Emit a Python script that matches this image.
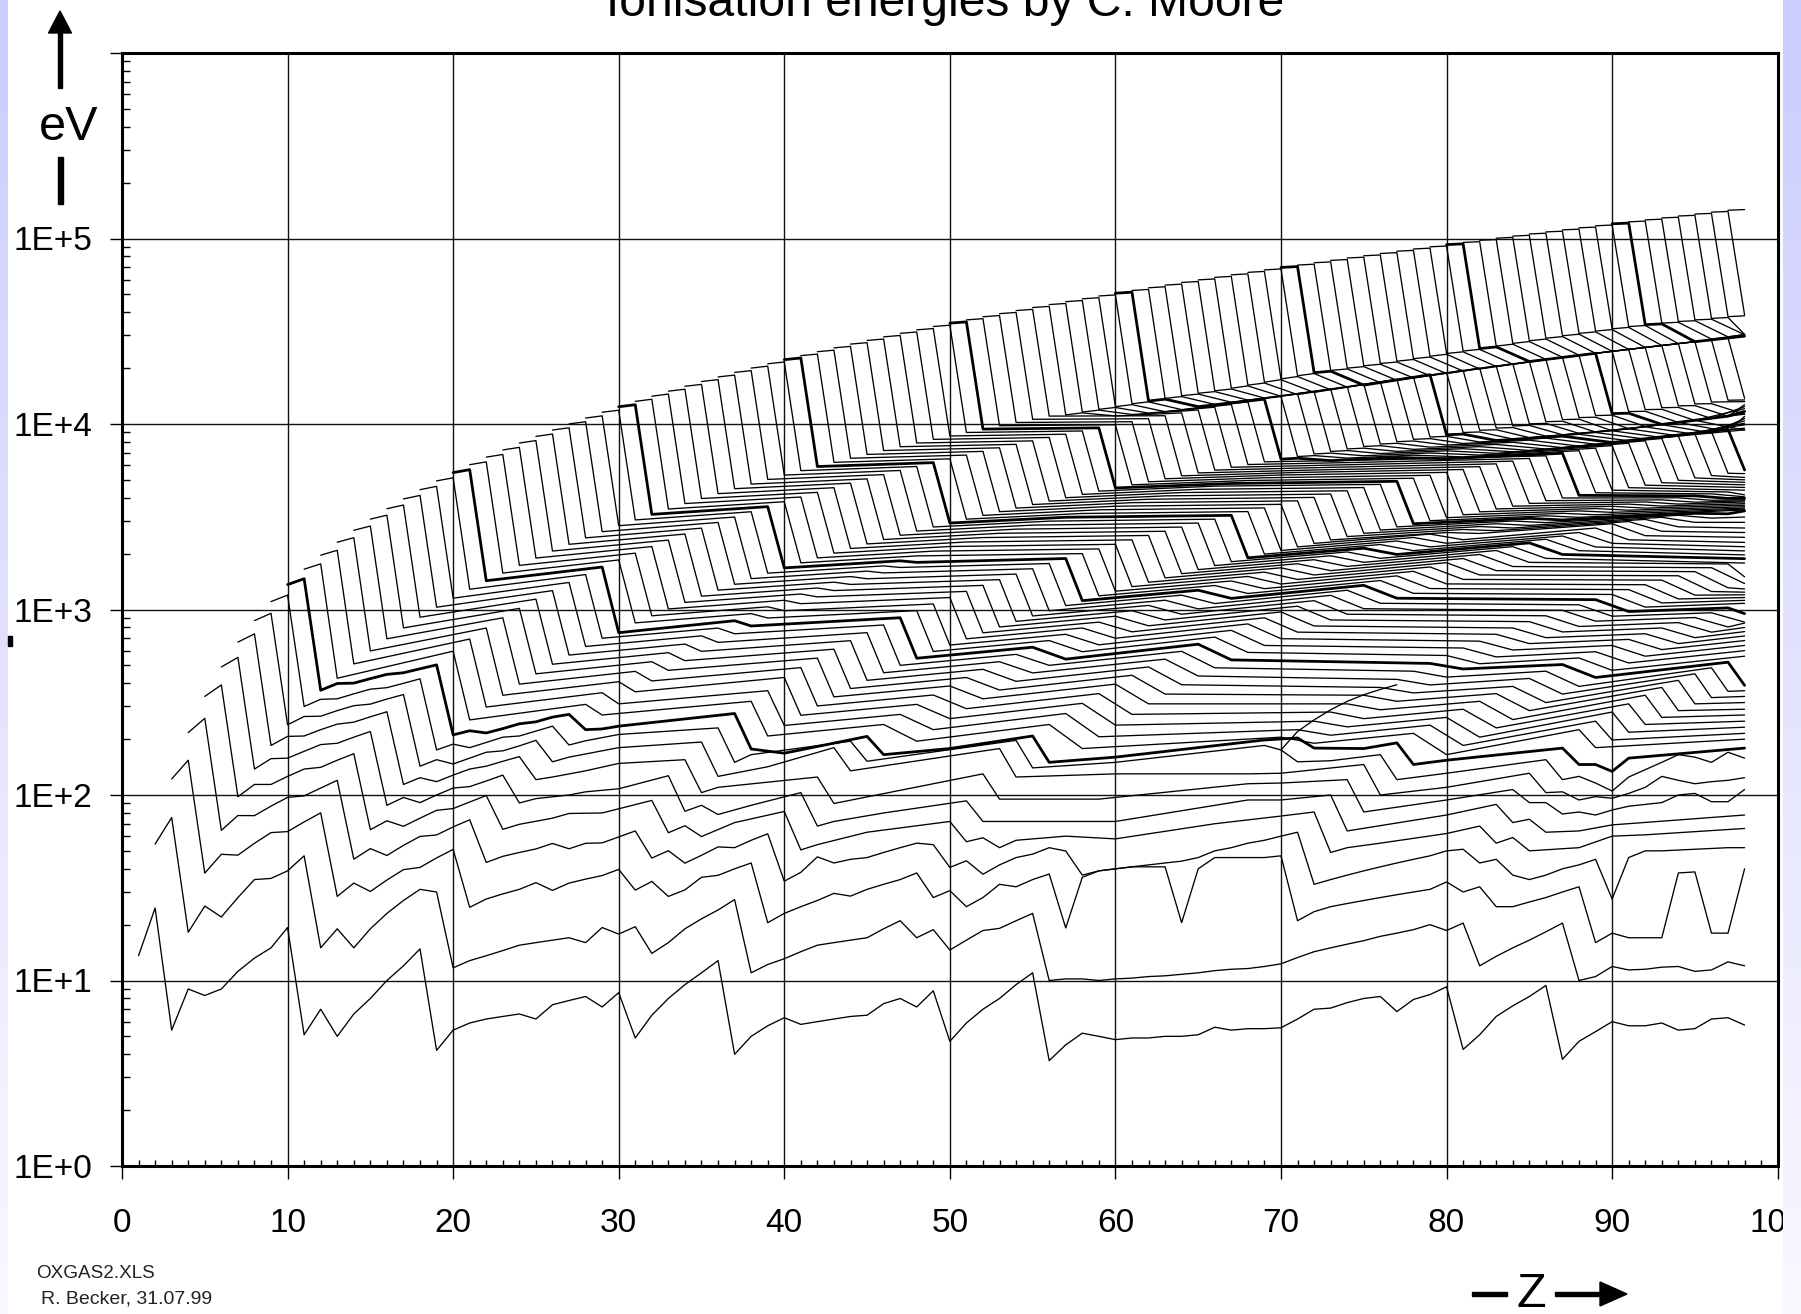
import numpy as np, pandas as pd, seaborn as sns, matplotlib
matplotlib.use("Agg")
import matplotlib.pyplot as plt
from matplotlib.patches import Polygon, Rectangle
from matplotlib.ticker import LogLocator, FixedLocator, NullFormatter, FixedFormatter

TITLE = "Ionisation energies by C. Moore"
YTICKS = [1, 10, 100, 1000, 10000, 100000]
YLABELS = ["1E+0", "1E+1", "1E+2", "1E+3", "1E+4", "1E+5"]
XTICKS = list(range(0, 101, 10))

# full rows, first value at Z = q
q1 = [13.6,24.6,5.4,9.0,8.3,9.0,11.2,13.2,15,19.3,
      5.1,7,5,6.6,8,10,12,14.8,4.2,5.4,
      5.9,6.2,6.4,6.6,6.2,7.4,7.8,8.2,7.2,8.6,
      4.9,6.5,8,9.5,11,12.8,4,5,5.7,6.3,
      5.8,6,6.2,6.4,6.5,7.5,8,7.2,8.8,4.7,
      5.9,7,8,9.5,11,3.7,4.5,5.2,5,4.8,
      4.9,4.9,5,5,5.1,5.6,5.4,5.5,5.5,5.56,
      6.2,7,7.1,7.6,8,8.2,6.8,7.9,8.4,9.25,
      4.25,5.1,6.4,7.3,8.2,9.4,3.76,4.7,5.3,6,
      5.7,5.7,5.9,5.4,5.5,6.2,6.3,5.75]
q2 = [54.4,75.6,18.2,25.2,22,28,35,35.5,39,47,15,19,15,19,23,27,31,30,11.7,
      12.8,13.6,14.5,15.5,16,16.5,17,16,19.3,17.8,19.5,14,16,19,21.5,24,27.3,11,12.2,
      13.1,14.3,15.5,16,16.5,17,19,21,17,18.8,14.6,16.5,18.6,19.1,21,23,10,10.2,10.2,
      10,10.2,10.3,10.5,10.6,10.8,11,11.3,11.5,11.6,11.9,12.3,13.3,14.3,15,15.7,16.4,17.3,
      18,18.8,20,18.6,20.4,12,13.5,15,16.5,18.3,20.4,10,10.5,11.9,11.4,11.5,11.8,11.9,11.2,11.4,12.6,12]
q3 = [122,154,37.9,47.9,47.4,54.9,62.7,63.5,71.6,80.1,28.4,33.5,30.2,34.8,39.6,40.7,45.8,50.9,
      24.8,27.5,29.3,31,33.7,30.6,33.5,35.2,36.8,39.7,30.7,34.2,28.4,30.8,36,36.9,40,43,
      20.5,23,25,27,29.5,28.5,31,33,35,38,28,30.5,25,28,33,32,35,37.5,19.2,36,39,40,41,41,41,
      20.5,40,46,46,46,46,47,21,23.5,25,26,27,28,29,30,31,34,30,32,25,25,26.5,28,30,32,
      16,18,17,17,17,38,38.5,18,18,40]
q4 = [217,259,64.5,77.5,77.4,87.1,97.1,98.9,109,120,45.1,51.4,47.2,53.5,59.8,60.9,67.3,73.5,
      43.3,46.7,49,51.2,54.8,51.3,54.9,55.2,59.4,64,45.7,50.1,42.9,47.3,52.5,52,57,61.8,
      34.3,38.3,46.4,43,45,46,49,52,55,54,40.7,44.2,37.4,42,46,48,52,49.9,37,39,40,41,42,43,44,46,
      50,52,55,57,60,63,33,35,37,39,41,43,45,47,50,51,43,45,37,35,37,40,42,45,27.5,46,50,50,50.5,51,51.5,52,52]

# corner rows: (Z, eV)
Z5 = [5,6,7,8,9,10,11,12,13,14,15,16,17,18,19,20,21,22,23,24,26,27,29,32,33,34,35,37,40,41,42,45,50,51,52,53,54,57,60,66,70,72,73,74,76,80,82,83,84,85,88,90,92,98]
E5 = [340,392,97.9,114,114,126,138,141,154,167,65,72.6,67.8,75,82.7,84.5,91.7,99.3,65.3,69.5,75,79.5,80,93.5,62.6,68.3,59.7,71,81.5,50.6,54,63,72,56,58.8,52,57,60,58,70,77,81,49,52,55,62,68,55,59,50,52,60,61,66]
Z6 = [6,7,8,9,10,11,12,13,14,15,16,17,18,19,20,21,22,23,24,25,27,28,30,33,34,35,36,38,41,42,43,46,51,52,55,60,68,70,73,74,80,83,84,85,86,88,90,98]
E6 = [490,552,138,157,158,172,187,190,205,220,88,97,91,100,109,111,119,128,90.6,95.6,100,104,108,127,81.7,88,78.5,88,103,68,72,80,93,72,72,72,94,94,100,64,78,89,71,74,63,64,69,78]
Z7 = [7,8,9,10,11,12,13,14,15,16,17,18,19,20,21,22,23,24,25,26,28,30,34,35,36,42,43,52,53,59,68,70,74,75,80,84,85,86,87,88,89,90,91,93,94,95,96,97,98]
E7 = [667,739,185,207,208,225,241,247,264,281,114,124,118,128,138,143,152,161,121,125,135,148,155,103,110,125,90,130,95,95,115,116,121,81,94,107,91,91,79,81,78,83,87,91,100,102,92,92,107]
Z8 = [8,9,10,11,12,13,14,15,16,17,18,19,20,21,22,23,24,25,26,27,30,35,36,39,43,44,53,54,60,68,70,75,76,80,85,86,87,88,89,90,91,92,93,94,95,96,97,98]
E8 = [871,954,239,265,266,285,303,309,329,348,143,155,147,158,170,173,184,197,151,160,180,193,126,142,180,135,178,125,130,130,131,146,100,110,131,103,104,94,98,96,102,110,126,120,115,118,120,124]
Z9 = [9,10,11,12,13,14,15,16,17,18,19,20,21,22,23,24,25,26,27,28,30,36,37,38,44,45,54,55,60,69,70,71,73,76,77,80,86,87,88,89,90,91,93,94,95,96,97,98]
E9 = [1103,1196,300,328,330,351,372,379,400,423,175,188,180,192,205,208,221,235,186,196,212,230,150,165,195,152,197,140,150,185,175,151,153,165,121,131,155,121,126,116,105,125,150,165,160,150,170,158]
Z10 = [10,11,12,13,14,15,16,17,18,19,20,21,22,23,24,25,26,27,28,29,30,37,38,40,45,46,50,55,56,60,69,71,72,75,77,78,80,87,88,89,90,91,98]
E10 = [1362,1465,367,399,401,424,447,456,479,503,211,222,216,228,242,248,263,272,225,227,235,275,177,168,207,165,178,208,150,160,198,203,179,178,191,146,154,179,146,146,134,158,179]
# odd line that climbs away from q=9 at Z=70
Z_extra = [70,71,72,73,74,75,76,77]
E_extra = [175,220,254,288,320,347,371,393]

# corners for q = 11, 12, ... : one list per electron step k (Z = q + k)
k0 = [1649,1962,2304,2673,3070,3494,3946,4426,4934,5470,6034,6626,7246,7895,8572,9278,10010,10770,11570,12390,13240,14120,15030,15970,16940,17940,18970,20020,21110,22220,23360,24530,25730,26960,28210,29500,30820,32170,33540,34970,36400,37860,39350,40890,42440,44030,45650,47300,48990,50700,52460,54240,56070,57930,59810,61740,63700,65700,67730,69800,71900,74000,76200,78500,80700,83000,85400,87800,90200,92700,95200,97800,100400,103000,105800,108500,111300,114200,117100,120000,123000,126000,129100,132200,135400,138700,142000,145000]
k1 = [1762,2086,2438,2818,3224,3658,4121,4611,5129,5675,6249,6851,7482,8141,8828,9544,10288,11062,11864,12700,13600,14500,15400,16350,17350,18350,19400,20500,21600,22700,23816,25000,26200,27450,28710,30010,31340,32700,34090,35530,36970,38440,39940,41490,43060,44660,46290,47950,49650,51380,53150,54940,56780,58650,60550,62490,64460,66470,68520,70600,72700,74800,77000,79300,81500,83900,86300,88700,91100,93600,96100,98700,101400,104000,106800,109500,112300,115200,118200,121100,124100,127100,130200,133300,136600,139900,143200]
k2 = [426,509,598,695,796,909,1029,1151,1286,1429,1572,1729,1894,2066,2246,2433,2628,2830,3040,3257,3482,3725,3965,4213,4480,4743,5027,5305,5604,5898,6213,6538,6854,7194,7543,7899,8264,8619,9000,9389,9786,10190,10600,11030,11200,11600,12000,12400,12850,13300,13750,14200,14650,15100,15600,16200,16800,17500,18200,18900,19450,20000,20600,21200,21800,22500,23200,24000,24750,25500,26300,27200,28100,29000,29900,30800,31700,32600,33500,34300,35000,35700,36400,37100,37900,38700]
k3_from55 = [11480,11880,12280,12720,13170,13610,14060,14500,14950,15440,16040,16630,17330,18020,18710,19260,19800,20390,20990,21580,22280,22970,23760,24500,25250,26040,26930,27820,28710,29600,30490,31380,32270,33170,33960,34650,35340,36040,36730,37500,38300]
k5_from55 = [11050,11250,11450,11650,11950,12400,12750,13100,13450,13800,14100,14400,14800,15300,15800,16200,16700,17200,17700,18200,18700,19300,19800,20400,21000,21720,22300,22900,23500,24050,24650,25250,25870,26500,27140,27780,28700,29500,30300]
k9 = [596,693,794,902,1014,1137,1264,1399,1543,1694,1850,2012,2184,2366,2551,2745,2946,3151,3365,3585,3810,4040,4280,4535,4797,5060,5335,5615,5900,6190,6490,6800,7120,7440,7768,8110,8460,8810,9170,9529,9910,10290,10680,11080,11480,11900,12320,12740,13170,13610,14060,14520,14980,15450,15930,16420,16920,17420,17930,18440,18960,19490,20030,20590,21150,21720,22300,22870,23460,24050,24650,25250,25870,26500,27140,27780,28430,29090,29760]
k10 = [254,298,345,396,450,507,568,632,700,750,847,925,1007,1092,1180,1272,1368,1467,1570,1676,1785,1898,2014,2134,2257,2384,2514,2648,2785,2925,3069,3217,3368,3522,3680,3841,4006,4174,4346,4521,4700,4882,5067,5256,5449,5645,5844,6047,6253,6463,6676,6893,7113,7336,7563,7794,8028,8265,8506,8750,8998,9250,9504,9763,10024,10289,10558,10830,11105,11384,11667,11953,12242,12535,12831,13130,13434,13750]
k11_from60 = [6540,6755,6970,7190,7410,7640,7870,8100,8340,8580,8820,9060,9310,9570,9830,10080,10350,10610,10880,11160,11430,11710,12000,12290,12570,12870,13170,13480]
k13_from60 = [6350,6550,6740,6930,7120,7300,7500,7700,7850,8000,8150,8300,8450,8600,8750,8900,9050,9190,9440,9700,9950,10200,10450,10700,11000,11300]
k17 = [308,356,408,464,523,585,651,721,794,870,950,1034,1121,1212,1306,1404,1505,1610,1718,1830,1945,2064,2186,2312,2442,2575,2711,2851,2995,3142,3293,3447,3604,3766,3930,4098,4270,4445,4624,4780,4960,5130,5310,5480,5650,5840,6030,6220,6410,6600,6790,6980,7170,7360,7550,7760,7970,8180,8390,8600,8800,9000,9190,9420,9650,9920,10200,10470,10750,11020,11300]
k18 = [270,310,360,412,470,530,595,665,740,815,900,985,1075,1170,1265,1365,1465,1575,1685,1795]
k20_from60 = [6500,6650,6800,6950,7080,7200,7330,7460,7600,7780,7950,8120,8290,8460,8630,8800,8950,9100,9270]
k27 = [320,365,430,486,547,611,679,750,825,903,986,1071,1160,1252,1349,1448,1552,1658,1769,1883,2001,2121,2246,2374,2507,2641,2781,2923,3069,3218,3372,3528,3689,3852,4020,4190,4365,4543,4725,4909,5099,5290,5487,5685,5889,6095,6306,6518,6736,6956,7181,7408,7641,7875,8114,8355,8602,8850,9104,9359,9300]
k28 = [208,237,269,302,338,375,415,456,500,546,594,643,695,749,805,863,923,985,1050,1116,1185,1255,1328,1403,1481,1560,1641,1725,1810,1899,1989,2081,2175,2272,2371,2472,2576,2681,2789,2899,3011,3126,3243,3362,3484,3607,3733,3861,3992,4125,4260,4398,4537,4680,4825,4970,5120,5271,5426,5650]
k35 = [240,272,308,346,387,430,476,523,573,626,680,735,795,855,920,985,1052,1122,1195,1270,1347,1425,1507,1590,1678,1765,1855,1948,2043,2140,2240,2340,2445,2550,2600,2700,2800,2900,3000,3100,3200,3300,3400,3500,3600,3700,3800,3900,4000,4100,4200,4300,4400]
k37 = [195,225,258,292,330,368,410,455,500,540,592,645,700,758,817,878,943,1008,1077,1148,1220,1295,1372,1452,1535,1620,1707,1796,1887,1980,2076,2175,2275,2378,2570,2660,2750,2840,2940,3040,3140,3240,3340,3430,3520,3610,3700,3790,3880,3970,4050]
k45 = [240,275,312,352,396,442,490,540,595,650,710,772,836,902,970,1042,1116,1192,1270,1350,1433,1518,1606,1696,1788,1883,1980,2080,2182,2286,2392,2490,2600,2750,2900,2980,3060,3140,3220,3300,3380,3450,3520]
k47 = [178,206,238,272,310,350,393,438,485,535,587,640,696,755,815,878,943,1010,1080,1150,1222,1297,1374,1453,1535,1620,1705,1795,1886,1980,2075,2173,2273,2376,2500,2640,2790,2950,3110,3280,3440]
k59 = [205,225,250,280,310,345,380,420,465,512,565,620,675,735,795,860,925,990,1060,1130,1205,1280,1360,1440,1520,1600,1680,1760,1780]
k61 = [190,210,233,258,288,320,355,392,432,478,510,555,605,655,705,757,810,865,920,975,1030,1085,1140,1195,1250,1310,1380]
k67 = [215,238,262,290,320,352,385,425,465,505,548,592,640,690,740,795,850,905,960,1020,1080]
k69 = [165,185,205,230,255,285,315,350,385,430,470,515,560,608,655,705,755,805,855]
k77 = [225,250,280,310,345,380,415,450,485,520,560]
k78 = [180,198,218,240,262,285,310,335,362,390]
# value of each line q = 11, 12, ... where it ends at Z = 98
at_98 = [200,215,232,250,270,290,315,340,365,390,560,600,640,680,720,760,800,845,890,950,1080,1120,1160,1200,1240,1290,1380,1500,1780,1880,1970,2070,2180,2300,2450,2600,2750,2950,3150,3400,3440,3480,3520,3580,3650,3720,3800,3850,3900,3970,4050,4150,4400,4550,4700,4850,5000,5150,5400,5750,8950,9500,9900,10100,10400,10700,11000,11200,11500,11700,11900,12100,12400,12700,13000,13200,13500,13800,14000,29760,30300,30350,30400,30400,31500,38300,38700,143200]

steps = [(0,11,k0),(1,11,k1),(2,11,k2),(3,55,k3_from55),(5,55,k5_from55),(9,11,k9),(10,11,k10),
         (11,60,k11_from60),(13,60,k13_from60),(17,11,k17),(18,11,k18),(20,60,k20_from60),
         (27,11,k27),(28,11,k28),(35,11,k35),(37,11,k37),(45,11,k45),(47,11,k47),(59,11,k59),
         (61,11,k61),(67,11,k67),(69,11,k69),(77,11,k77),(78,11,k78)]

rows = []
for q, vals in zip([1,2,3,4], [q1,q2,q3,q4]):
    assert q + len(vals) - 1 == 98, (q, len(vals))
    rows += [(q, q+i, v) for i, v in enumerate(vals)]
for q, zs, es in [(5,Z5,E5),(6,Z6,E6),(7,Z7,E7),(8,Z8,E8),(9,Z9,E9),(10,Z10,E10),(1000,Z_extra,E_extra)]:
    assert len(zs) == len(es), (q, len(zs), len(es))
    rows += [(q, z, e) for z, e in zip(zs, es)]
for q in range(11, 99):
    last = 0
    for k, first, col in steps:
        i = q - first
        if 0 <= i < len(col) and q + k <= 98:
            rows.append((q, q+k, col[i])); last = q+k
    if last < 98:
        rows.append((q, 98, at_98[q-11]))
df = pd.DataFrame(rows, columns=["q", "Z", "eV"])

sns.set_theme(style="white")
plt.rcParams["font.family"] = ["Liberation Sans", "DejaVu Sans"]
W, H = 1801, 1314
fig = plt.figure(figsize=(W/100, H/100), dpi=100, facecolor="white")
ax = fig.add_axes([122/W, (H-1166)/H, (1777.7-122)/W, (1166-53)/H], facecolor="white")
ax.set_yscale("log")

thin = df[(df.q % 10 != 0) | (df.q == 1000)]
thick = df[(df.q % 10 == 0) & (df.q != 1000)]
sns.lineplot(data=thin, x="Z", y="eV", units="q", estimator=None, sort=False, color="black", lw=0.95, ax=ax, legend=False, zorder=3)
sns.lineplot(data=thick, x="Z", y="eV", units="q", estimator=None, sort=False, color="black", lw=2.0, ax=ax, legend=False, zorder=4)

ax.set_xlim(0, 100); ax.set_ylim(1, 1e6)
ax.set_xlabel(""); ax.set_ylabel("")
ax.xaxis.set_major_locator(FixedLocator(XTICKS))
ax.xaxis.set_minor_locator(FixedLocator([z for z in range(1, 100) if z % 10]))
ax.yaxis.set_major_locator(FixedLocator(YTICKS + [1e6]))
ax.yaxis.set_major_formatter(FixedFormatter(YLABELS + [""]))
ax.yaxis.set_minor_locator(LogLocator(base=10, subs=range(2, 10), numticks=12))
ax.yaxis.set_minor_formatter(NullFormatter())
ax.grid(True, which="major", color="#111111", lw=1.0, zorder=2)
ax.set_axisbelow(False)
ax.tick_params(axis="x", which="major", direction="out", length=9.4, width=1.0, pad=20.5, labelsize=24, color="black", bottom=True)
ax.tick_params(axis="y", which="major", direction="out", length=8.6, width=1.0, pad=13, labelsize=24, color="black", left=True)
ax.tick_params(axis="x", which="minor", direction="in", length=4.5, width=1.0, color="black", bottom=True)
ax.tick_params(axis="y", which="minor", direction="in", length=6, width=1.0, color="black", left=True)
for s in ax.spines.values():
    s.set_visible(True); s.set_color("black"); s.set_linewidth(2.2); s.set_zorder(6)
for t in ax.get_xticklabels() + ax.get_yticklabels():
    t.set_color("black")

# overlay in pixel coordinates: page bands, arrows and free text
ov = fig.add_axes([0, 0, 1, 1], zorder=5, facecolor="none")
ov.set_xlim(0, W); ov.set_ylim(H, 0); ov.axis("off")
grad = np.linspace(0, 1, 256)[:, None, None] * (np.array([0.975, 0.975, 1.0]) - np.array([0.8, 0.8, 1.0])) + np.array([0.8, 0.8, 1.0])
ov.imshow(grad, extent=(0, 7, H, 0), aspect="auto", zorder=1)
ov.imshow(grad, extent=(1783, W, H, 0), aspect="auto", zorder=1)
ov.set_xlim(0, W); ov.set_ylim(H, 0)

ov.text(945, 16, TITLE, fontsize=34.6, ha="center", va="baseline", color="black")
ov.text(69, 140, "eV", fontsize=35, ha="center", va="baseline", color="black")
ov.add_patch(Polygon([[60, 11], [48.5, 33], [71.5, 33]], color="black"))
ov.add_patch(Rectangle((58, 33), 4, 55, color="black"))
ov.add_patch(Rectangle((58, 157), 4.5, 47, color="black"))
ov.add_patch(Rectangle((8, 636), 3.5, 10, color="black"))
ov.add_patch(Rectangle((1472, 1292), 35, 4, color="black"))
ov.text(1531, 1307, "Z", fontsize=35, ha="center", va="baseline", color="black")
ov.add_patch(Rectangle((1555, 1292), 50, 4, color="black"))
ov.add_patch(Polygon([[1627, 1294], [1600, 1282], [1600, 1306]], color="black"))
ov.text(36, 1278, "OXGAS2.XLS", fontsize=13.6, ha="left", va="baseline", color="#222222")
ov.text(41, 1304, "R. Becker, 31.07.99", fontsize=14, ha="left", va="baseline", color="#222222")

fig.savefig("out.png", dpi=100, facecolor="white")
